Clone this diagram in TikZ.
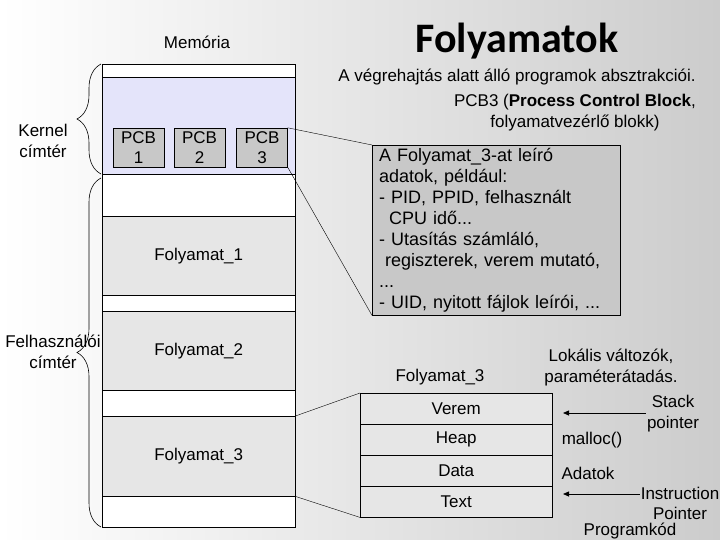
\documentclass[tikz,border=0pt]{standalone}
\usepackage{fontspec}
\setmainfont{Liberation Sans}
\newfontfamily\titlefont{Carlito}
\usetikzlibrary{decorations.pathreplacing,arrows.meta}
\definecolor{kernelblue}{RGB}{228,228,250}
\definecolor{procgray}{RGB}{230,230,230}
\definecolor{pcbgray}{RGB}{200,200,200}
\tikzset{
  memrow/.style={draw,fill=white,minimum width=193pt,inner sep=0pt,anchor=north west},
  pcbbox/.style={draw,fill=pcbgray,minimum width=51pt,minimum height=39pt,inner sep=1pt,align=center,font=\fontsize{17}{20}\selectfont},
  segrow/.style={draw,fill=procgray,minimum width=192pt,minimum height=31pt,inner sep=0pt,anchor=north west},
  txt/.style={align=center,inner sep=1pt,font=\fontsize{17}{21}\selectfont},
  brc/.style={decorate,decoration={brace,amplitude=24pt},semithick},
  ptr/.style={-{Triangle[length=6pt,width=5pt]},thick}
}
\begin{document}
\begin{tikzpicture}[x=1pt,y=-1pt,font=\fontsize{17}{21}\selectfont]
      \shade[left color=white,right color=gray!40] (0,0) rectangle (720,540);
      \useasboundingbox (0,0) rectangle (720,540);
      \node[font=\titlefont\bfseries\fontsize{42}{44}\selectfont] (title) at (517,41) {Folyamatok};
      \node[txt] (subtitle) at (517,77) {A végrehajtás alatt álló programok absztrakciói.};
      \node[txt,font=\fontsize{17}{20}\selectfont] (memlabel) at (197,42) {Memória};
      \node[memrow,minimum height=13pt] (top) at (102,64) {};
      \node[memrow,fill=kernelblue,minimum height=97pt] (kernel) at (102,77) {};
      \node[memrow,minimum height=42pt] (gap1) at (102,174) {};
      \node[memrow,fill=procgray,minimum height=79pt] (f1) at (102,216) {Folyamat\_1};
      \node[memrow,minimum height=16pt] (gap2) at (102,295) {};
      \node[memrow,fill=procgray,minimum height=79pt] (f2) at (102,311) {Folyamat\_2};
      \node[memrow,minimum height=26pt] (gap3) at (102,390) {};
      \node[memrow,fill=procgray,minimum height=80pt] (f3) at (102,416) {Folyamat\_3};
      \node[memrow,minimum height=31pt] (gap4) at (102,496) {};
      \node[pcbbox] (pcb1) at (138.5,147.5) {PCB\\1};
      \node[pcbbox] (pcb2) at (199.5,147.5) {PCB\\2};
      \node[pcbbox] (pcb3) at (262,147.5) {PCB\\3};
      \coordinate (ktop) at (101,64);
      \coordinate (kbot) at (101,174);
      \coordinate (utop) at (101,178);
      \coordinate (ubot) at (101,527);
      \draw[brc] (kbot) -- (ktop);
      \draw[brc] (ubot) -- (utop);
      \node[txt] (kernellabel) at (43,141) {Kernel\\címtér};
      \node[txt] (userlabel) at (53,352) {Felhasználói\\címtér};
      \node[txt] (pcbtitle) at (575,113) {PCB3 (\textbf{Process Control Block},\\folyamatvezérlő blokk)};
      \node[draw,fill=pcbgray,anchor=north west,minimum width=248pt,minimum height=170pt,
            text width=234pt,align=left,inner xsep=7pt,inner ysep=0pt,
            font=\fontsize{18}{21}\selectfont] (pcbinfo) at (372,145)
        {A Folyamat\_3-at leíró\\
         adatok, például:\\
         - PID, PPID, felhasznált\\
         \hspace*{10pt}CPU idő...\\
         - Utasítás számláló,\\
         \hspace*{6pt}regiszterek, verem mutató,\\
         ...\\
         - UID, nyitott fájlok leírói, ...};
      \draw[thin] (pcb3.north east) -- (pcbinfo.north west);
      \draw[thin] (pcb3.south east) -- (pcbinfo.south west);
      \node[txt] (seglabel) at (440,377) {Folyamat\_3};
      \node[segrow] (verem) at (360,393) {Verem};
      \node[segrow] (heap) at (360,424) {Heap};
      \node[segrow] (data) at (360,455) {Data};
      \node[segrow] (text) at (360,486) {Text};
      \draw[thin] (f3.north east) -- (verem.north west);
      \draw[thin] (f3.south east) -- (text.south west);
      \node[txt] (locals) at (611,368) {Lokális változók,\\paraméterátadás.};
      \node[txt] (sp) at (673,414) {Stack\\pointer};
      \node[txt] (malloc) at (592,440) {malloc()};
      \node[txt] (adatok) at (588,473) {Adatok};
      \node[txt,font=\fontsize{17}{20}\selectfont] (ip) at (680,503) {Instruction\\Pointer};
      \node[txt] (progkod) at (630,531) {Programkód};
      \coordinate (sptip) at (563,413);
      \coordinate (iptip) at (563,494);
      \draw[ptr] (sp.west |- sptip) -- (sptip);
      \draw[ptr] (ip.west |- iptip) -- (iptip);
\end{tikzpicture}
\end{document}
